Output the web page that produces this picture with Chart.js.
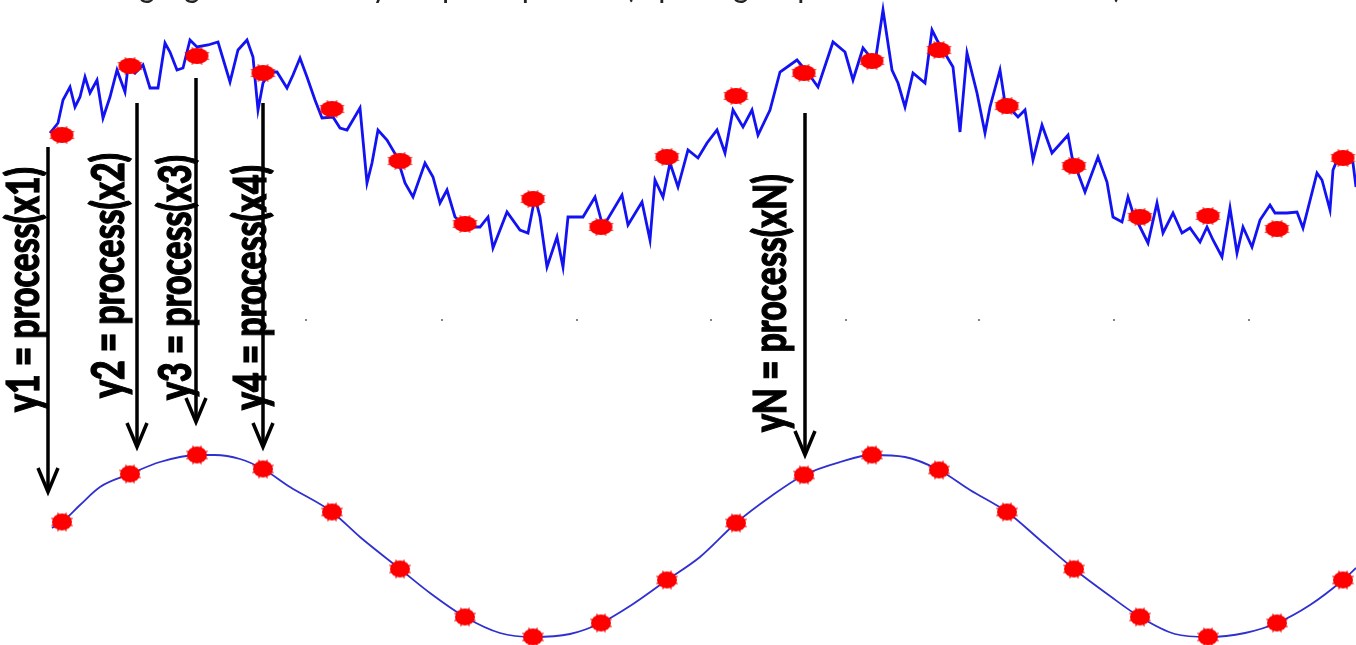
<!DOCTYPE html>
<html><head><meta charset="utf-8">
<script src="https://cdn.jsdelivr.net/npm/chart.js@4/dist/chart.umd.min.js"></script>
<style>html,body{margin:0;padding:0;background:#fff;overflow:hidden}canvas{display:block}</style>
</head><body>
<canvas id="c" width="1356" height="645"></canvas>
<script>
// ---- data (time in ms, amplitude in mV) ----
const sampleT = [0,68,135,201,270,338,403,471,539,605,674,742,810,877,945,1012,1078,1146,1215,1281];
const noisySampleV = [5,74,84,67,31,-21,-84,-59,-87,-17,44,67,79,90,34,-26,-77,-76,-89,-18];
const cleanSampleV = [24,72,91,77,34,-23,-71,-91,-77,-34,23,71,91,76,34,-23,-71,-91,-77,-34];

const noisyT = [-12,-4,1,8,13,18,23,28,35,41,48,55,63,66,73,81,88,96,103,108,115,121,128,135,146,156,168,176,185,191,196,201,208,215,225,231,238,245,253,260,271,278,285,298,305,310,316,325,335,343,351,363,371,378,385,393,405,418,426,431,445,458,466,473,478,485,495,501,506,521,533,541,560,566,580,588,593,601,608,616,626,636,645,655,663,671,681,690,696,708,718,735,746,756,771,783,791,801,813,821,830,836,843,851,863,870,875,891,896,898,905,915,923,928,938,943,956,963,971,980,990,1006,1010,1023,1036,1045,1051,1060,1066,1071,1086,1095,1101,1111,1120,1128,1138,1145,1151,1160,1168,1175,1181,1190,1198,1208,1213,1225,1235,1241,1255,1260,1268,1271,1278,1291,1294];
const noisyV = [7,17,40,53,33,43,63,47,60,22,43,70,48,73,67,75,52,52,97,88,70,72,100,93,95,98,58,90,100,83,30,57,68,68,52,65,82,63,40,22,23,12,10,32,-43,-23,10,0,-17,-43,-57,-23,-37,-63,-50,-77,-87,-87,-77,-108,-72,-90,-93,-57,-77,-127,-97,-127,-77,-77,-57,-87,-55,-85,-62,-100,-40,-57,-23,-47,-10,-18,-3,10,-13,30,13,30,5,30,68,80,67,53,98,88,60,92,77,130,70,57,33,67,57,110,100,73,27,8,87,47,7,33,70,37,23,30,-20,15,-13,5,-17,-52,-17,-42,-77,-82,-57,-73,-103,-63,-93,-73,-93,-88,-102,-87,-100,-117,-68,-113,-87,-107,-80,-65,-73,-73,-72,-88,-33,-40,-70,-30,-13,-23,-47];

const cleanT = [-10,0,18,38,68,98,135,153,178,201,228,270,298,338,368,403,438,471,508,539,568,605,638,674,708,742,778,810,843,877,908,945,978,1012,1048,1078,1113,1146,1183,1215,1248,1281,1294];
const cleanV = [18,24,41,59,72,84,91,91,87,77,59,34,9,-23,-47,-71,-87,-91,-88,-77,-60,-34,-11,23,49,71,84,91,89,76,56,34,6,-23,-50,-71,-88,-91,-87,-77,-59,-34,-22];

const axisMarkT = [244,380,515,649,784,917,1052,1187];
const axisMarkV = [-180,-180,-180,-180,-180,-180,-180,-180];

const labelTexts = ["y1 = process(x1)","y2 = process(x2)","y3 = process(x3)","y4 = process(x4)","yN = process(xN)"];
const titleText = "Resulting signal with noisy output = process(input signal parameters and models)";

// ---- annotation geometry (data units) ----
const arrowT    = [-14, 75, 134, 201, 743];
const arrowTopV = [-7, 37, 62, 37, 27];      // top-axis units
const arrowTipV = [54, 99, 124, 99, 91];     // bottom-axis units
const labelBaseT = [-23, 62, 129, 204, 724];
const labelStartV = [134, 148, 146, 136, 114]; // bottom-axis units

function blob(w, h) {
  const c = document.createElement('canvas');
  c.width = w + 4; c.height = h + 4;
  const g = c.getContext('2d');
  const cx = (w + 4) / 2, cy = (h + 4) / 2;
  g.fillStyle = '#ff0000';
  g.beginPath();
  g.ellipse(cx, cy, w / 2, h / 2, 0, 0, Math.PI * 2);
  g.fill();
  g.strokeStyle = 'rgba(235,0,0,0.85)';
  g.lineWidth = 1.2;
  for (let k = 0; k < 8; k++) {
    const a = k * Math.PI / 4 + Math.PI / 8;
    g.beginPath();
    g.moveTo(cx + Math.cos(a) * (w / 2 - 2), cy + Math.sin(a) * (h / 2 - 2));
    g.lineTo(cx + Math.cos(a) * (w / 2 + 1.5), cy + Math.sin(a) * (h / 2 + 1.5));
    g.stroke();
  }
  return c;
}

const overlay = {
  id: 'overlay',
  afterDatasetsDraw(chart) {
    const ctx = chart.ctx;
    const x = chart.scales.x, yT = chart.scales.yTop, yB = chart.scales.yBot;
    ctx.save();
    // arrows
    ctx.strokeStyle = '#000';
    ctx.lineWidth = 3.5;
    ctx.lineJoin = 'miter';
    for (let i = 0; i < arrowT.length; i++) {
      const px = x.getPixelForValue(arrowT[i]);
      const y0 = yT.getPixelForValue(arrowTopV[i]);
      const y1 = yB.getPixelForValue(arrowTipV[i]);
      ctx.beginPath(); ctx.moveTo(px, y0); ctx.lineTo(px, y1 - 2); ctx.stroke();
      ctx.beginPath(); ctx.moveTo(px - 10, y1 - 24); ctx.lineTo(px, y1); ctx.lineTo(px + 10, y1 - 24); ctx.stroke();
    }
    // rotated labels
    ctx.fillStyle = '#000';
    ctx.strokeStyle = '#000';
    ctx.lineWidth = 0.9;
    ctx.font = '900 28px Lato';
    const w0 = ctx.measureText(labelTexts[0]).width;
    const fs = 28 * 245 / w0;
    ctx.font = '900 ' + fs.toFixed(2) + 'px Lato';
    ctx.textBaseline = 'alphabetic';
    ctx.textAlign = 'left';
    for (let i = 0; i < labelTexts.length; i++) {
      const bx = x.getPixelForValue(labelBaseT[i]);
      const by = yB.getPixelForValue(labelStartV[i]);
      ctx.save();
      ctx.translate(bx, by);
      ctx.scale(1.35, 1);
      ctx.rotate(-Math.PI / 2);
      ctx.fillText(labelTexts[i], 0, 0);
      ctx.strokeText(labelTexts[i], 0, 0);
      ctx.restore();
    }
    // clipped title at top
    ctx.font = '36px Lato';
    ctx.fillStyle = '#222';
    ctx.textBaseline = 'alphabetic';
    const prefix = titleText.slice(0, titleText.indexOf('signal'));
    const rest = titleText.slice(titleText.indexOf('signal'));
    const sxT = 959 / ctx.measureText(rest).width;
    const pw = ctx.measureText(prefix).width * sxT;
    ctx.save();
    ctx.translate(163 - pw, -3);
    ctx.scale(sxT, 1);
    ctx.fillText(titleText, 0, 0);
    ctx.restore();
    ctx.restore();
  }
};

const pts = (t, v) => t.map((tt, i) => ({ x: tt, y: v[i] }));

new Chart(document.getElementById('c'), {
  type: 'line',
  data: {
    datasets: [
      { label: 'noisy samples', data: pts(sampleT, noisySampleV), yAxisID: 'yTop', showLine: false,
        pointStyle: blob(23, 16), pointRadius: 8, order: 0, clip: false },
      { label: 'clean samples', data: pts(sampleT, cleanSampleV), yAxisID: 'yBot', showLine: false,
        pointStyle: blob(20, 17), pointRadius: 8, order: 0, clip: false },
      { label: 'noisy output', data: pts(noisyT, noisyV), yAxisID: 'yTop', borderColor: '#1212f2',
        borderWidth: 2.8, pointRadius: 0, tension: 0, order: 1, clip: false },
      { label: 'clean signal', data: pts(cleanT, cleanV), yAxisID: 'yBot', borderColor: '#3030d0',
        borderWidth: 1.8, pointRadius: 0, cubicInterpolationMode: 'monotone', order: 1, clip: false },
      { label: 'axis marks', data: pts(axisMarkT, axisMarkV), yAxisID: 'yTop', showLine: false,
        pointRadius: 1.1, pointBackgroundColor: '#666', pointBorderWidth: 0, order: 2 }
    ]
  },
  options: {
    responsive: false,
    devicePixelRatio: 1,
    animation: false,
    layout: { padding: 0, autoPadding: false },
    plugins: { legend: { display: false }, tooltip: { enabled: false }, title: { display: false } },
    scales: {
      x: { type: 'linear', display: false, min: -62, max: 1294 },
      yTop: { type: 'linear', display: false, min: -505, max: 140 },
      yBot: { type: 'linear', display: false, min: -99, max: 546 }
    }
  },
  plugins: [overlay]
});
</script>
</body></html>
